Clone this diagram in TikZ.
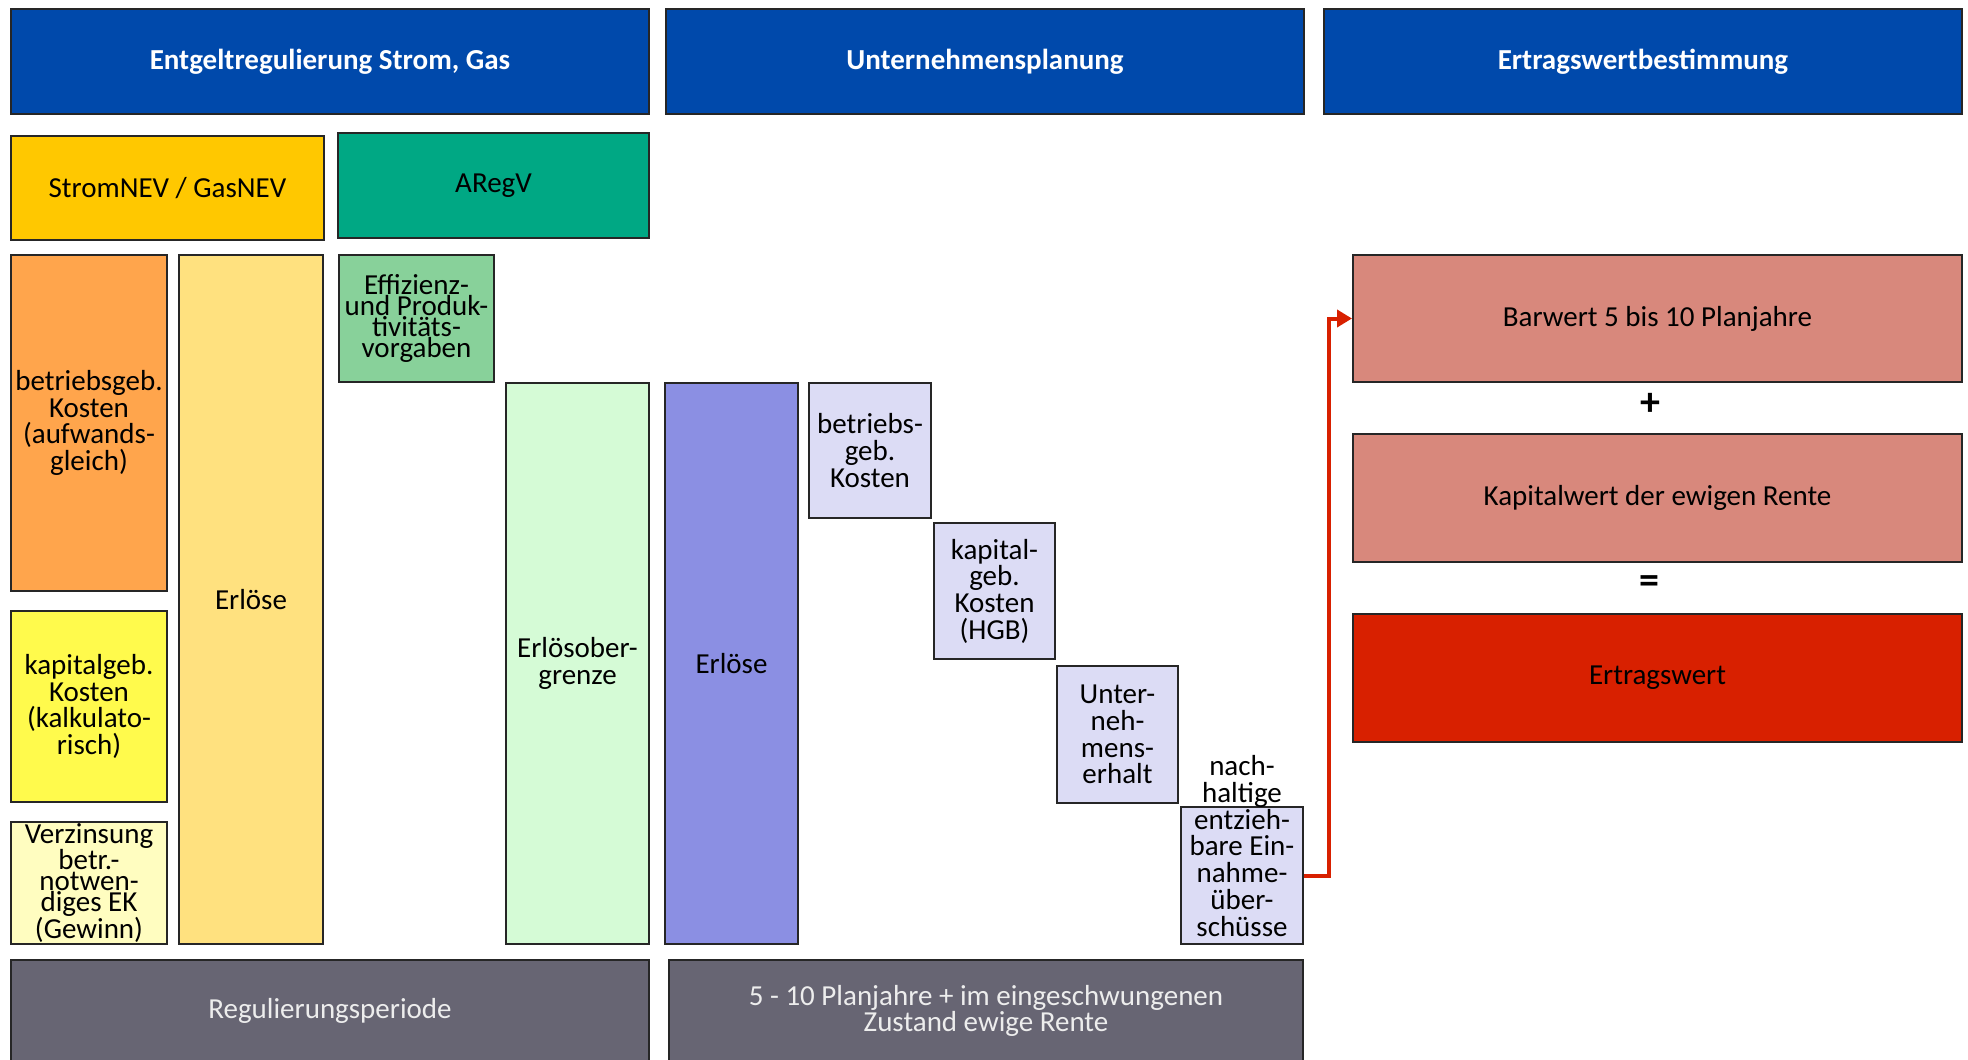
\documentclass[tikz,border=0pt]{standalone}
\usepackage{fontspec}
\setmainfont{Carlito}
\usetikzlibrary{arrows.meta}
\definecolor{hblue}{HTML}{0049AB}
\definecolor{cgold}{HTML}{FFC800}
\definecolor{cteal}{HTML}{00A884}
\definecolor{corange}{HTML}{FFA54C}
\definecolor{cpale}{HTML}{FFE17F}
\definecolor{cgreen}{HTML}{88D19A}
\definecolor{cyellow}{HTML}{FFFA4C}
\definecolor{ccream}{HTML}{FFFDC0}
\definecolor{cmint}{HTML}{D5FBD6}
\definecolor{cviolet}{HTML}{8B8FE3}
\definecolor{clav}{HTML}{DCDCF5}
\definecolor{cgrey}{HTML}{676573}
\definecolor{crose}{HTML}{D8887C}
\definecolor{cred}{HTML}{D82000}
\begin{document}
\begin{tikzpicture}[x=1pt,y=-1pt,
  box/.style={draw=black!85, line width=2pt, align=center, inner sep=0pt, text=black,
    font=\fontsize{29}{26.7}\selectfont},
  tight/.style={font=\fontsize{29}{21}\selectfont},
  head/.style={box, fill=hblue, text=white, font=\bfseries\fontsize{29}{30}\selectfont,
    minimum width=638pt, minimum height=105pt},
  foot/.style={box, fill=cgrey, text=white!93!black, minimum height=102pt},
  wide/.style={box, minimum width=609pt, minimum height=127pt},
  sign/.style={font=\bfseries\fontsize{40}{40}\selectfont, inner sep=0pt},
  conn/.style={draw=cred, line width=4pt, -{Triangle[length=15pt,width=17pt]}}
]
\clip (0,0) rectangle (1968,1060);
\fill[white] (0,0) rectangle (1968,1060);

% headers
\node[head] (h1) at (330,61.5) {Entgeltregulierung Strom, Gas};
\node[head] (h2) at (985,61.5) {Unternehmensplanung};
\node[head] (h3) at (1643,61.5) {Ertragswertbestimmung};

\node[box, fill=cgold, minimum width=313pt, minimum height=104pt] (strom) at (167.5,188) {StromNEV / GasNEV};
\node[box, fill=cteal, minimum width=311pt, minimum height=105pt] (aregv) at (493.5,185.5) {ARegV};

% left column
\node[box, fill=corange, minimum width=156pt, minimum height=336pt] (bkost) at (89,423) {betriebsgeb.\\Kosten\\(aufwands-\\gleich)};
\node[box, fill=cyellow, minimum width=156pt, minimum height=191pt] (kkost) at (89,706.5) {kapitalgeb.\\Kosten\\(kalkulato-\\risch)};
\node[box, tight, fill=ccream, minimum width=156pt, minimum height=122pt] (verz) at (89,883) {Verzinsung\\betr.-\\notwen-\\diges EK\\(Gewinn)};
\node[box, fill=cpale, minimum width=144pt, minimum height=689pt] (erl1) at (251,599.5) {Erlöse};
\node[box, tight, fill=cgreen, minimum width=155pt, minimum height=127pt] (effi) at (416.5,318.5) {Effizienz-\\und Produk-\\tivitäts-\\vorgaben};
\node[box, fill=cmint, minimum width=143pt, minimum height=561pt] (eog) at (577.5,663.5) {Erlösober-\\grenze};

% planning column
\node[box, fill=cviolet, minimum width=133pt, minimum height=561pt] (erl2) at (731.5,663.5) {Erlöse};
\node[box, fill=clav, minimum width=122pt, minimum height=135pt] (pbk) at (870,450.5) {betriebs-\\geb.\\Kosten};
\node[box, fill=clav, minimum width=121pt, minimum height=136pt] (pkk) at (994.5,591) {kapital-\\geb.\\Kosten\\(HGB)};
\node[box, fill=clav, minimum width=121pt, minimum height=137pt] (pue) at (1117.5,734.5) {Unter-\\neh-\\mens-\\erhalt};
\node[box, fill=clav, minimum width=122pt, minimum height=137pt] (pne) at (1242,875.5) {};
\node[align=center, inner sep=0pt, font=\fontsize{29}{26.7}\selectfont] (pnetext) at (1242,846) {nach-\\haltige\\entzieh-\\bare Ein-\\nahme-\\über-\\schüsse};

% footers
\node[foot, minimum width=638pt] (reg) at (330,1011) {Regulierungsperiode};
\node[foot, minimum width=634pt] (plan) at (986,1011) {5 - 10 Planjahre + im eingeschwungenen\\Zustand ewige Rente};

% valuation column
\node[wide, fill=crose] (bw) at (1657.5,318.5) {Barwert 5 bis 10 Planjahre};
\node[sign] (plus) at (1650,404) {+};
\node[wide, fill=crose, minimum height=128pt] (kw) at (1657.5,498) {Kapitalwert der ewigen Rente};
\node[sign] (eq) at (1649,585) {=};
\node[wide, fill=cred, minimum height=128pt] (ew) at (1657.5,678) {Ertragswert};

% connector
\draw[conn] (pne.east) -- ++(25,0) |- (bw.west);
\end{tikzpicture}
\end{document}
